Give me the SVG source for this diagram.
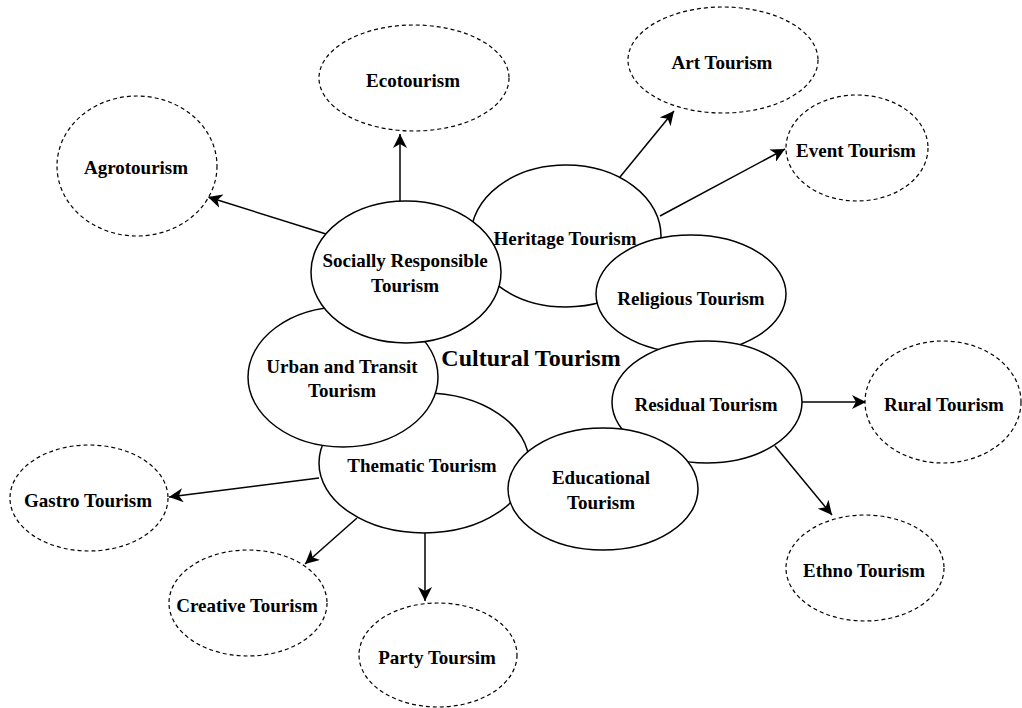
<svg xmlns="http://www.w3.org/2000/svg" width="1022" height="708" viewBox="0 0 1022 708">
<style>
.main{fill:#fff;stroke:#000;stroke-width:1.5}
.sub{fill:#fff;stroke:#000;stroke-width:1.2;stroke-dasharray:4 3}
.t{font-family:"Liberation Serif","Times New Roman",serif;font-weight:bold;font-size:19px;fill:#000;text-anchor:middle;dominant-baseline:central}
.big{font-size:24px}
.edge{stroke:#000;stroke-width:1.5;fill:none;marker-end:url(#ah)}
</style>
<defs>
<marker id="ah" markerUnits="userSpaceOnUse" markerWidth="15" markerHeight="14" refX="14" refY="7" orient="auto">
<path d="M0,0 L14,7 L0,14 L4,7 Z" fill="#000"/>
</marker>
</defs>
<rect width="1022" height="708" fill="#fff"/>
<g id="connectors">
<line class="edge" x1="400" y1="201" x2="400" y2="134"/>
<line class="edge" x1="326" y1="234" x2="208" y2="197"/>
<line class="edge" x1="620" y1="177" x2="674" y2="111"/>
<line class="edge" x1="660" y1="216" x2="785" y2="149"/>
<line class="edge" x1="802" y1="402" x2="866" y2="402"/>
<line class="edge" x1="775" y1="446" x2="832" y2="515"/>
<line class="edge" x1="319" y1="478" x2="169" y2="497"/>
<line class="edge" x1="357" y1="518" x2="305" y2="564"/>
<line class="edge" x1="425" y1="533" x2="425" y2="601"/>
</g>
<g id="thematic"><ellipse class="main" cx="424" cy="463" rx="105" ry="70"/><text class="t" x="422" y="465">Thematic Tourism</text></g>
<g id="urban"><ellipse class="main" cx="343" cy="377" rx="95" ry="70"/><text class="t" x="342" y="366">Urban and Transit</text><text class="t" x="342" y="390">Tourism</text></g>
<g id="heritage"><ellipse class="main" cx="566" cy="236" rx="95" ry="71"/><text class="t" x="565" y="238">Heritage Tourism</text></g>
<g id="socially"><ellipse class="main" cx="406" cy="272" rx="95" ry="71"/><text class="t" x="405" y="260">Socially Responsible</text><text class="t" x="405" y="285">Tourism</text></g>
<g id="religious"><ellipse class="main" cx="691" cy="294" rx="95" ry="59"/><text class="t" x="691" y="298">Religious Tourism</text></g>
<g id="residual"><ellipse class="main" cx="707" cy="402" rx="95" ry="61"/><text class="t" x="706" y="404">Residual Tourism</text></g>
<g id="educational"><ellipse class="main" cx="603" cy="489" rx="95" ry="61"/><text class="t" x="601" y="477">Educational</text><text class="t" x="601" y="502">Tourism</text></g>
<g id="cultural"><text class="t big" x="531" y="358">Cultural Tourism</text></g>
<g id="ecotourism"><ellipse class="sub" cx="414" cy="78" rx="95" ry="53"/><text class="t" x="413" y="80">Ecotourism</text></g>
<g id="agrotourism"><ellipse class="sub" cx="137" cy="166" rx="80" ry="70"/><text class="t" x="136" y="167">Agrotourism</text></g>
<g id="art"><ellipse class="sub" cx="723" cy="60" rx="95" ry="53"/><text class="t" x="722" y="62">Art Tourism</text></g>
<g id="event"><ellipse class="sub" cx="857" cy="148" rx="71" ry="53"/><text class="t" x="856" y="150">Event Tourism</text></g>
<g id="rural"><ellipse class="sub" cx="943" cy="402" rx="78" ry="61"/><text class="t" x="944" y="404">Rural Tourism</text></g>
<g id="ethno"><ellipse class="sub" cx="865" cy="568" rx="79" ry="53"/><text class="t" x="864" y="570">Ethno Tourism</text></g>
<g id="gastro"><ellipse class="sub" cx="89" cy="498" rx="79" ry="53"/><text class="t" x="88" y="500">Gastro Tourism</text></g>
<g id="creative"><ellipse class="sub" cx="248" cy="603" rx="79" ry="53"/><text class="t" x="247" y="605">Creative Tourism</text></g>
<g id="party"><ellipse class="sub" cx="438" cy="655" rx="79" ry="52"/><text class="t" x="437" y="657">Party Toursim</text></g>
</svg>
